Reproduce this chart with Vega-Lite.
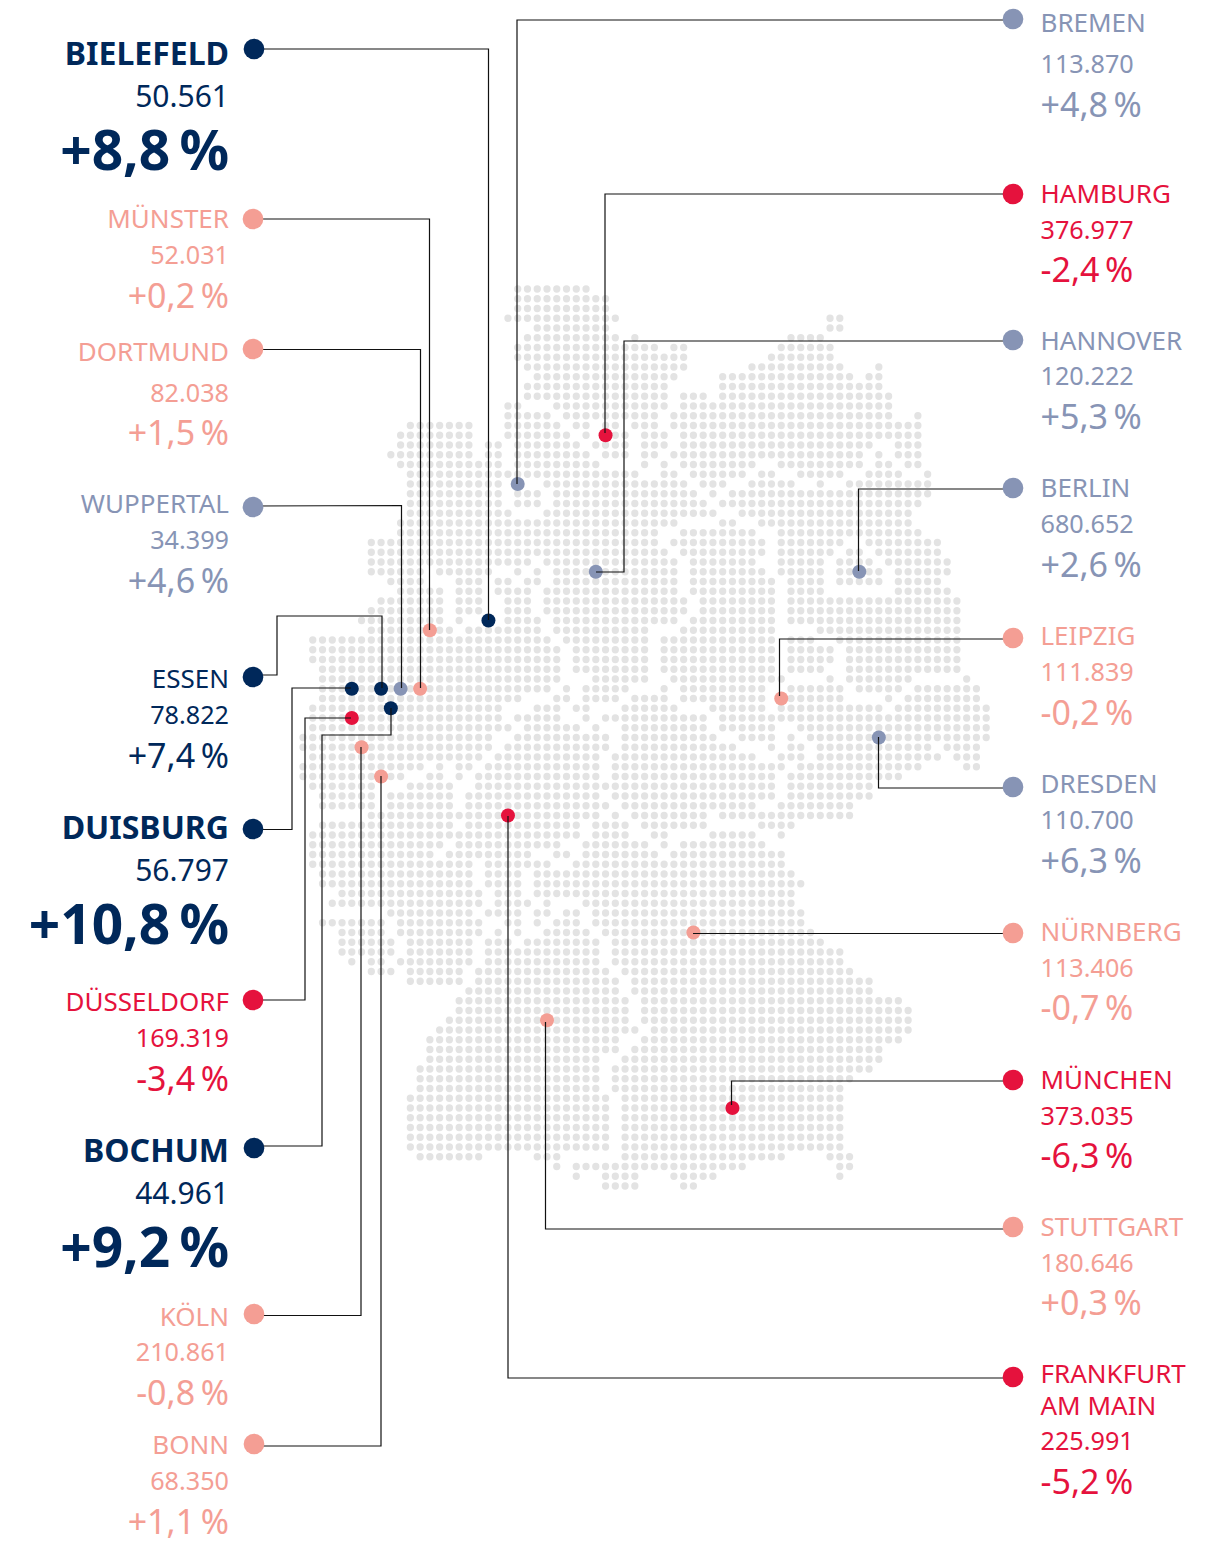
{
"$schema":"https://vega.github.io/schema/vega-lite/v6.json",
"autosize":{"type":"fit","contains":"padding"},"padding":0,"width":1224,"height":1541,
"background":"white","view":{"stroke":null},
"config":{"text":{"font":"Noto Sans"}},
"datasets":{
"dots":[
{"r":0,"c":[22,23,24,25,26,27,28,29]},
{"r":1,"c":[22,23,24,25,26,27,28,29,30,31]},
{"r":2,"c":[22,23,24,25,26,27,28,29,30,31]},
{"r":3,"c":[21,22,23,24,25,26,27,28,29,30,31,32,54,55]},
{"r":4,"c":[24,25,26,27,28,29,30,31,54,55]},
{"r":5,"c":[23,24,25,26,27,28,29,30,31,32,34,50,51,52,53]},
{"r":6,"c":[22,23,24,25,26,27,28,29,30,31,32,33,34,35,36,38,39,49,50,51,52,53,54]},
{"r":7,"c":[22,23,24,25,26,27,28,29,30,31,32,33,34,35,36,37,38,39,48,49,50,51,52,53,54]},
{"r":8,"c":[23,24,25,26,27,28,29,30,31,32,33,34,35,36,37,38,39,46,47,48,49,50,51,52,53,54,55,59]},
{"r":9,"c":[24,25,26,27,28,29,30,31,32,33,34,35,36,37,38,43,44,45,46,47,48,49,50,51,52,53,54,55,56,58,59]},
{"r":10,"c":[23,24,25,26,27,28,29,30,31,32,33,34,35,36,37,43,44,45,46,47,48,49,50,51,52,53,54,55,56,57,58,59]},
{"r":11,"c":[23,24,25,26,27,28,29,30,31,32,33,34,35,36,37,39,40,41,43,44,45,46,47,48,49,50,51,52,53,54,55,56,57,58,59,60]},
{"r":12,"c":[21,22,26,27,28,29,30,31,32,33,34,35,36,37,39,40,41,42,43,44,45,46,47,48,49,50,51,52,53,54,55,56,57,58,59,60]},
{"r":13,"c":[21,22,23,24,25,27,28,29,30,31,32,33,34,35,36,38,39,40,41,42,43,44,45,46,47,48,49,50,51,52,53,54,55,56,57,58,59,60,63]},
{"r":14,"c":[11,12,13,14,15,16,17,21,22,23,24,25,26,28,29,31,32,34,35,36,38,39,40,41,42,43,44,45,46,47,48,49,50,51,52,53,54,55,56,57,58,59,60,61,62,63]},
{"r":15,"c":[10,11,12,13,14,15,16,17,21,22,23,24,25,26,27,29,31,32,33,35,36,37,39,40,41,42,43,44,45,46,47,48,49,50,51,52,53,54,55,56,57,58,59,60,61,62,63]},
{"r":16,"c":[10,11,12,13,14,15,16,17,19,20,22,23,24,25,26,27,28,30,31,32,33,35,36,37,39,40,41,42,43,44,45,46,47,48,49,50,51,52,53,54,55,56,57,58,61,62,63]},
{"r":17,"c":[9,10,11,12,13,14,15,16,17,19,20,22,23,24,25,26,27,28,29,31,32,33,35,36,38,39,40,41,42,43,44,45,46,47,48,49,50,51,52,53,54,55,56,57,59,61,62,63]},
{"r":18,"c":[10,11,12,13,14,15,16,17,18,19,20,22,23,24,25,26,27,28,29,30,35,37,39,40,41,42,43,44,45,46,49,50,51,52,53,54,55,56,57,59,60,62,63]},
{"r":19,"c":[11,12,13,14,15,16,17,18,19,20,21,22,23,24,25,26,27,28,29,30,31,32,33,34,37,38,40,41,42,43,44,45,47,48,51,52,53,54,55,58,59,60,61,64]},
{"r":20,"c":[11,12,13,14,15,16,17,18,19,20,22,25,26,27,28,29,30,31,32,33,34,35,36,37,38,39,41,42,43,46,47,48,49,50,53,56,57,58,59,60,61,62,63,64]},
{"r":21,"c":[11,12,13,14,15,16,17,18,19,20,22,23,24,26,27,28,29,30,31,32,33,34,35,36,37,38,39,40,42,44,45,46,47,48,49,50,51,52,53,54,55,56,57,58,59,60,61,62,63,64]},
{"r":22,"c":[11,12,13,14,15,16,17,18,19,20,22,23,24,26,27,28,29,30,31,32,33,34,35,36,37,38,39,40,41,43,44,45,46,47,48,49,50,51,52,53,54,55,56,57,58,59,60,61,62,63]},
{"r":23,"c":[11,12,13,14,15,16,17,18,19,20,21,25,26,27,28,29,30,31,32,33,34,35,36,37,38,39,40,41,42,45,46,47,48,49,50,51,52,53,54,55,56,57,58,59,60,61,62]},
{"r":24,"c":[10,11,12,13,14,15,16,17,18,19,20,21,22,23,24,25,26,27,28,29,30,31,32,33,34,35,36,37,38,43,44,47,48,49,50,51,52,53,54,55,56,57,58,59,60,61,62]},
{"r":25,"c":[10,11,12,13,14,15,16,17,18,19,20,21,22,23,24,25,26,27,28,29,30,31,32,33,34,35,36,39,40,41,42,43,44,45,46,49,50,51,52,53,54,55,56,57,58,59,60,61,62,63]},
{"r":26,"c":[7,8,9,10,11,12,13,14,15,16,17,18,19,20,21,22,23,24,25,26,27,28,29,30,31,32,33,34,35,36,38,39,40,41,42,43,44,45,46,47,49,50,51,52,53,54,55,58,59,60,61,62,63,64,65]},
{"r":27,"c":[7,8,9,10,11,12,13,14,15,16,17,18,19,20,21,22,23,24,25,26,27,28,29,30,31,32,33,34,35,36,37,39,40,41,42,43,44,45,46,47,49,50,51,52,53,54,56,57,59,60,61,62,63,64,65]},
{"r":28,"c":[7,8,9,10,11,12,13,14,15,16,17,18,19,20,21,22,23,25,26,27,28,29,30,31,32,33,34,35,36,37,38,40,41,42,43,44,45,46,49,50,51,52,53,55,56,57,58,60,61,62,63,64,65,66]},
{"r":29,"c":[7,8,9,10,11,12,14,15,16,17,18,19,22,24,26,27,28,29,30,31,32,33,34,35,36,37,38,40,41,42,43,44,45,46,47,49,50,51,52,53,55,56,57,58,59,61,62,63,64,65,66]},
{"r":30,"c":[9,10,11,12,16,17,18,20,21,23,24,26,27,28,29,30,31,32,33,34,35,36,37,38,40,41,42,43,44,45,46,47,48,50,51,52,53,55,56,57,58,59,61,62,63,64,65]},
{"r":31,"c":[10,11,12,13,14,16,17,18,20,21,22,23,25,26,27,28,29,30,31,32,33,34,35,36,37,38,40,41,42,43,44,45,46,47,48,50,51,52,53,61,62,63,64,65,66]},
{"r":32,"c":[8,9,10,11,12,13,14,16,17,18,21,22,23,25,26,27,28,29,30,31,32,33,34,35,36,37,38,39,41,42,43,44,45,46,47,48,50,51,52,53,54,55,56,57,58,59,60,61,62,63,64,65,66,67]},
{"r":33,"c":[7,8,9,10,11,12,13,14,16,17,18,21,22,23,25,26,27,28,29,30,31,32,33,34,35,36,37,38,39,41,42,43,44,45,46,47,48,50,51,52,53,54,55,56,57,58,59,60,61,62,63,64,65,66,67]},
{"r":34,"c":[6,7,8,9,10,11,12,13,14,16,19,21,22,23,24,26,27,28,29,30,31,32,33,34,35,36,37,38,40,41,42,43,44,45,46,47,48,50,51,52,53,54,55,56,57,58,59,60,61,62,63,64,65,66,67]},
{"r":35,"c":[7,8,9,10,11,12,13,14,15,17,18,19,20,21,22,23,24,26,27,28,29,30,31,32,33,34,35,39,40,41,42,43,44,45,46,47,48,53,54,55,56,57,58,59,60,61,62,63,64,65,66,67]},
{"r":36,"c":[1,2,3,4,5,6,7,8,9,10,11,12,13,14,15,16,17,18,19,20,21,22,23,24,25,27,28,29,30,31,32,33,34,35,37,38,39,40,41,42,43,44,45,46,47,48,50,51,52,55,56,57,58,59,60,61,62,63,64,65,66,67]},
{"r":37,"c":[1,2,3,4,5,6,7,8,9,10,11,12,13,14,15,16,17,18,19,20,21,22,23,24,25,26,28,29,30,31,32,33,34,35,37,38,39,40,41,42,43,44,45,46,47,48,50,51,52,53,54,56,57,58,59,60,61,62,63,64,65,66,67]},
{"r":38,"c":[1,2,3,4,5,6,7,8,9,10,11,12,13,14,15,16,17,18,19,20,21,22,23,24,25,26,28,29,30,31,32,33,34,35,37,38,39,40,41,42,43,44,45,46,47,48,50,51,52,53,54,56,57,58,59,60,61,62,63,64,65,66,67]},
{"r":39,"c":[2,3,4,5,6,7,8,9,10,11,12,13,14,15,16,17,18,19,20,21,22,23,24,25,26,28,29,30,31,32,33,34,35,37,38,39,40,41,42,43,44,45,46,47,48,50,51,52,53,56,57,58,59,60,61,62,63,64,65,66,67]},
{"r":40,"c":[2,3,4,5,6,7,8,9,10,11,12,13,14,15,16,17,18,19,20,21,22,23,24,25,26,30,31,32,33,34,35,38,39,40,41,42,43,44,45,46,47,48,49,54,56,57,58,59,60,61,62,68]},
{"r":41,"c":[2,3,4,5,6,7,8,9,10,11,12,13,14,15,16,17,18,19,20,21,22,23,24,25,27,29,30,31,32,33,37,39,40,41,42,43,44,45,46,47,50,51,52,53,54,55,57,58,59,60,61,63,64,65,66,67,68,69]},
{"r":42,"c":[2,3,4,5,6,7,8,9,10,11,12,13,14,15,16,17,18,19,20,21,22,26,27,29,30,31,32,34,35,36,37,39,40,41,42,43,44,45,46,47,49,50,51,52,53,54,55,60,62,63,64,65,66,67,68,69]},
{"r":43,"c":[1,2,3,4,5,6,7,8,9,10,11,12,13,14,15,16,17,18,19,20,24,25,26,28,29,33,34,35,36,37,38,42,43,44,45,46,47,49,50,51,52,53,54,55,56,57,58,59,61,62,63,64,65,66,67,68,69,70]},
{"r":44,"c":[1,2,3,4,5,6,7,8,9,10,11,12,13,14,15,16,17,18,19,20,22,23,24,25,26,29,31,32,33,34,35,36,37,38,39,40,41,43,44,45,46,47,48,49,50,51,52,53,54,55,56,57,58,59,60,61,62,63,64,65,66,67,68,69,70]},
{"r":45,"c":[1,2,3,4,5,6,7,8,9,10,11,12,13,14,15,16,17,18,19,20,21,23,24,25,26,27,28,30,33,34,35,36,37,38,39,40,41,43,44,45,46,47,48,51,52,53,54,55,56,57,58,59,60,61,62,63,64,65,66,67,68,69,70]},
{"r":46,"c":[0,1,2,3,4,5,6,7,8,9,10,11,12,13,14,15,16,17,18,19,22,23,24,25,26,27,28,29,30,31,33,34,35,36,37,38,39,40,41,42,45,46,47,48,50,52,53,54,55,56,57,58,59,60,61,62,63,64,65,66,67,68,69,70]},
{"r":47,"c":[0,1,2,3,4,5,6,7,8,9,10,11,12,13,14,15,16,17,18,19,21,22,23,24,25,26,27,28,29,30,31,33,34,35,36,37,38,39,40,41,42,43,44,48,50,51,53,54,55,56,57,58,59,60,61,62,63,64,66,67,68,69]},
{"r":48,"c":[1,2,3,4,5,6,7,8,9,10,11,12,13,14,15,16,17,18,20,21,22,23,24,25,26,27,28,29,30,32,33,34,35,36,37,38,39,40,41,42,43,44,45,46,49,50,51,53,54,55,56,57,58,59,60,61,62,63,64,65,67,68,69]},
{"r":49,"c":[0,1,2,3,4,5,6,7,8,9,10,11,12,14,16,17,19,20,21,22,23,24,25,26,27,28,29,30,32,33,34,35,36,37,38,39,40,41,42,43,44,45,46,47,48,49,51,52,53,54,55,56,57,58,59,60,61,62,63,68,69]},
{"r":50,"c":[0,1,2,3,4,5,6,7,8,9,10,13,14,16,18,19,20,21,22,23,24,25,26,27,28,29,30,32,33,34,35,36,37,38,39,40,41,42,43,44,45,46,47,48,50,51,52,53,54,55,56,57,58,59,60,61]},
{"r":51,"c":[1,2,3,4,5,6,7,11,12,13,14,15,18,19,20,21,22,23,24,25,26,27,28,29,30,31,32,33,34,35,36,37,38,39,40,41,42,43,44,45,46,47,48,50,51,52,53,54,55,56,57,58]},
{"r":52,"c":[2,3,4,5,6,7,9,10,11,12,13,14,15,17,18,19,20,21,22,23,24,25,26,27,28,29,30,32,33,34,35,36,37,38,39,40,41,42,43,44,45,46,47,48,50,51,52,53,54,55,56,57,58]},
{"r":53,"c":[2,3,4,5,6,7,9,10,11,12,13,14,15,17,18,19,20,21,22,23,24,25,26,27,28,29,30,31,33,34,35,36,37,38,39,40,41,42,43,44,45,46,49,50,51,52,53,54,55,56]},
{"r":54,"c":[7,8,9,10,11,12,13,14,15,16,17,18,19,20,21,22,23,24,25,26,27,28,29,30,32,34,35,36,37,38,39,40,41,43,44,45,46,47,48,49,50,51,52,53,54,55,56]},
{"r":55,"c":[2,3,4,5,6,7,8,9,10,11,12,13,14,15,17,18,19,20,21,22,23,24,25,26,27,28,30,31,32,33,35,36,37,38,39,40,41,47,48,49,50]},
{"r":56,"c":[1,2,3,4,5,6,7,8,9,10,11,12,13,14,15,16,17,18,19,20,21,22,23,24,25,26,27,28,30,31,32,33,36,37,42,43,44,45,46,49]},
{"r":57,"c":[1,2,3,4,5,6,7,8,9,10,11,12,13,14,16,17,18,19,20,21,22,23,24,25,26,29,30,31,32,33,34,35,37,39,40,41,42,43,44,45,46,47]},
{"r":58,"c":[1,2,3,4,5,6,7,8,9,10,11,12,13,15,16,17,18,19,20,21,22,23,26,27,29,30,31,32,33,34,35,36,38,39,40,41,42,43,44,45,46,47,48,49]},
{"r":59,"c":[1,2,3,4,5,6,7,8,9,10,11,12,13,14,15,16,17,19,20,21,22,23,24,25,28,29,30,31,32,33,34,35,36,37,38,39,40,41,42,43,44,45,46,47,48,49]},
{"r":60,"c":[2,3,4,5,6,7,8,9,10,11,12,13,14,15,16,17,19,20,21,22,24,25,26,27,28,29,30,31,32,33,34,35,36,37,38,39,40,41,42,43,44,45,46,47,48,49,50]},
{"r":61,"c":[2,3,4,5,6,7,8,9,10,11,12,13,14,15,16,17,19,20,21,22,24,25,26,27,28,29,30,31,32,33,34,35,36,37,38,39,40,41,42,43,44,45,46,47,48,49,50,51]},
{"r":62,"c":[4,5,6,7,8,9,10,11,12,13,14,15,16,17,18,20,21,22,24,25,26,27,28,29,30,31,32,33,34,35,36,37,38,39,40,41,42,43,44,45,46,47,48,49,50]},
{"r":63,"c":[3,4,5,6,7,8,9,10,11,12,13,14,15,16,17,18,20,21,22,23,25,29,30,31,32,33,34,35,36,37,38,39,40,41,42,43,44,45,46,47,48,49,50]},
{"r":64,"c":[9,10,11,12,13,14,15,16,17,19,20,21,22,24,25,27,28,30,31,32,33,34,35,36,37,38,39,40,41,42,43,44,45,46,47,48,49,50,51]},
{"r":65,"c":[2,3,4,5,6,7,8,10,11,12,13,14,15,16,17,18,21,22,24,26,27,28,30,31,32,33,34,35,36,37,38,39,40,41,42,43,44,45,46,47,48,49,50,51]},
{"r":66,"c":[4,5,6,7,8,10,11,12,13,14,15,16,17,18,20,22,25,26,27,28,29,31,32,33,34,35,36,37,38,39,40,41,42,43,44,45,46,47,48,49,50,51,52]},
{"r":67,"c":[4,5,6,7,8,9,11,12,13,14,15,16,17,19,20,21,23,24,25,26,27,28,29,30,32,33,34,35,36,37,38,39,40,41,42,43,44,45,46,47,48,49,50,51,52,53]},
{"r":68,"c":[4,5,6,7,8,9,11,12,13,14,15,16,17,19,20,21,22,23,24,25,26,27,28,29,30,32,33,34,35,36,37,38,39,40,41,42,43,44,45,46,47,48,49,50,51,52,53,54,55]},
{"r":69,"c":[5,7,8,10,11,12,13,14,15,16,17,19,20,21,22,23,24,25,26,27,28,29,30,32,33,34,35,36,37,38,39,40,41,42,43,44,45,46,47,48,49,50,51,52,53,54,55]},
{"r":70,"c":[7,8,9,11,12,13,14,15,16,18,19,20,21,22,23,24,25,26,27,28,29,30,31,33,34,35,36,37,38,39,40,41,42,43,44,45,46,47,48,49,50,51,52,53,54,55,56]},
{"r":71,"c":[11,12,13,14,15,16,18,19,20,21,22,23,24,25,26,27,28,29,30,31,32,34,35,36,37,38,39,40,41,42,43,44,45,46,47,48,49,50,51,52,53,54,55,56,57,58]},
{"r":72,"c":[17,18,19,20,21,22,23,24,25,26,27,28,29,30,31,32,34,35,36,37,38,39,40,41,42,43,44,45,46,47,48,49,50,51,52,53,54,55,56,57,58]},
{"r":73,"c":[16,17,18,19,20,21,22,23,24,25,26,27,28,29,30,31,32,33,35,36,37,38,39,40,41,42,43,44,45,46,47,48,49,50,51,52,53,54,55,56,57,58,59,60,61]},
{"r":74,"c":[16,17,18,19,20,21,22,23,24,25,26,27,28,29,30,31,32,33,35,36,37,38,39,40,41,42,43,44,45,46,47,48,49,50,51,52,53,54,55,56,57,58,59,60,61,62]},
{"r":75,"c":[15,16,17,18,19,20,21,22,23,24,25,26,27,28,29,30,31,32,33,35,36,37,38,39,40,41,42,43,44,45,46,47,48,49,50,51,52,53,54,55,56,57,58,59,60,61,62]},
{"r":76,"c":[14,15,16,17,18,19,20,21,22,23,24,25,26,27,28,29,30,31,32,33,34,36,37,38,39,40,41,42,43,44,45,46,47,48,49,50,51,52,53,54,55,56,57,58,59,60,61,62]},
{"r":77,"c":[13,14,15,16,17,18,19,20,21,22,23,24,25,26,27,28,29,30,31,32,35,36,37,38,39,40,41,42,43,44,45,46,47,48,49,50,51,52,53,54,55,56,57,58,59,60,61]},
{"r":78,"c":[13,14,15,16,17,18,19,20,21,22,23,24,25,26,27,28,29,30,31,32,34,35,36,37,38,39,40,41,42,43,44,45,46,47,48,49,50,51,52,53,54,55,56,57,58,59]},
{"r":79,"c":[13,14,15,16,17,18,19,20,21,22,23,24,25,26,27,28,29,30,33,34,35,36,37,38,39,40,41,42,43,44,45,46,47,48,49,50,51,52,53,54,55,56,57,58,59]},
{"r":80,"c":[12,13,14,15,16,17,18,19,20,21,22,23,24,25,26,27,28,29,30,32,33,34,35,36,37,38,39,40,41,42,43,44,45,46,47,48,49,50,51,52,53,54,55,56,57,58]},
{"r":81,"c":[12,13,14,15,16,17,18,19,20,21,22,23,24,25,26,27,28,29,30,32,33,34,35,36,37,38,39,40,41,42,43,44,45,46,47,48,49,50,51,52,53,54,55,56]},
{"r":82,"c":[12,13,14,15,16,17,18,19,20,21,22,23,24,25,26,27,28,29,30,32,33,34,35,36,37,38,39,40,41,42,43,44,45,46,47,48,49,50,51,52,53,54,55]},
{"r":83,"c":[11,12,13,14,15,16,17,18,19,20,21,22,23,24,25,26,27,28,29,30,31,33,34,35,36,37,38,39,40,41,42,43,44,45,46,47,48,49,50,51,52,53,54,55]},
{"r":84,"c":[11,12,13,14,15,16,17,18,19,20,21,22,23,24,25,26,27,28,29,30,31,33,34,35,36,37,38,39,40,41,42,43,44,45,46,47,48,49,50,51,52,53,54,55]},
{"r":85,"c":[11,12,13,14,15,16,17,18,19,20,21,22,23,24,25,26,27,28,29,30,31,33,34,35,36,37,38,39,40,41,42,43,44,45,46,47,48,49,50,51,52,53,54,55]},
{"r":86,"c":[11,12,13,14,15,16,17,18,19,20,21,22,23,24,25,26,27,28,29,30,31,33,34,35,36,37,38,39,40,41,42,43,44,45,46,47,48,49,50,51,52,53,54,55]},
{"r":87,"c":[11,12,13,14,15,16,17,18,19,20,21,22,23,24,25,26,27,28,29,30,31,33,34,35,36,37,38,39,40,41,42,43,44,45,46,47,48,49,50,51,52,53,54,55]},
{"r":88,"c":[11,12,13,14,15,16,17,18,19,20,21,22,23,24,25,26,27,28,29,30,31,33,34,35,36,37,38,39,40,41,42,43,44,45,46,47,48,49,50,51,52,53,54,55]},
{"r":89,"c":[12,13,14,15,16,17,18,24,25,26,33,34,35,36,37,38,39,40,41,42,43,44,45,46,47,48,49,54,55,56]},
{"r":90,"c":[26,28,29,30,31,32,33,34,35,36,37,38,39,40,41,42,43,44,45,55,56]},
{"r":91,"c":[28,31,32,33,34,38,39,40,41,42,55]},
{"r":92,"c":[31,32,33,34,39,40]}
],
"pins":[
{"city":"Bielefeld","g":"stark","c":19,"r":34},{"city":"Münster","g":"stabil","c":13,"r":35},{"city":"Dortmund","g":"stabil","c":12,"r":41},{"city":"Wuppertal","g":"plus","c":10,"r":41},{"city":"Essen","g":"stark","c":8,"r":41},{"city":"Duisburg","g":"stark","c":5,"r":41},{"city":"Düsseldorf","g":"minus","c":5,"r":44},{"city":"Bochum","g":"stark","c":9,"r":43},{"city":"Köln","g":"stabil","c":6,"r":47},{"city":"Bonn","g":"stabil","c":8,"r":50},
{"city":"Bremen","g":"plus","c":22,"r":20},{"city":"Hamburg","g":"minus","c":31,"r":15},{"city":"Hannover","g":"plus","c":30,"r":29},{"city":"Berlin","g":"plus","c":57,"r":29},{"city":"Leipzig","g":"stabil","c":49,"r":42},{"city":"Dresden","g":"plus","c":59,"r":46},{"city":"Nürnberg","g":"stabil","c":40,"r":66},{"city":"München","g":"minus","c":44,"r":84},{"city":"Stuttgart","g":"stabil","c":25,"r":75},{"city":"Frankfurt","g":"minus","c":21,"r":54}
],
"ends":[
{"city":"Bielefeld","g":"stark","x":254,"y":49},{"city":"Münster","g":"stabil","x":253,"y":219},{"city":"Dortmund","g":"stabil","x":253,"y":349},{"city":"Wuppertal","g":"plus","x":253,"y":507},{"city":"Essen","g":"stark","x":253,"y":677},{"city":"Duisburg","g":"stark","x":253,"y":829},{"city":"Düsseldorf","g":"minus","x":253,"y":1000},{"city":"Bochum","g":"stark","x":254,"y":1148},{"city":"Köln","g":"stabil","x":254,"y":1314},{"city":"Bonn","g":"stabil","x":254,"y":1444},
{"city":"Bremen","g":"plus","x":1013,"y":19},{"city":"Hamburg","g":"minus","x":1013,"y":194},{"city":"Hannover","g":"plus","x":1013,"y":340},{"city":"Berlin","g":"plus","x":1013,"y":488},{"city":"Leipzig","g":"stabil","x":1013,"y":638},{"city":"Dresden","g":"plus","x":1013,"y":787},{"city":"Nürnberg","g":"stabil","x":1013,"y":933},{"city":"München","g":"minus","x":1013,"y":1080},{"city":"Stuttgart","g":"stabil","x":1013,"y":1227},{"city":"Frankfurt","g":"minus","x":1013,"y":1377}
],
"routes":[
{"city":"Bielefeld","n":1,"x":254,"y":49},{"city":"Bielefeld","n":2,"x":488.5,"y":49},{"city":"Bielefeld","n":3,"x":488.5,"y":620},
{"city":"Münster","n":1,"x":253,"y":219},{"city":"Münster","n":2,"x":429.5,"y":219},{"city":"Münster","n":3,"x":429.5,"y":630},
{"city":"Dortmund","n":1,"x":253,"y":349.5},{"city":"Dortmund","n":2,"x":420.5,"y":349.5},{"city":"Dortmund","n":3,"x":420.5,"y":688},
{"city":"Wuppertal","n":1,"x":253,"y":506},{"city":"Wuppertal","n":2,"x":401.5,"y":505.5},{"city":"Wuppertal","n":3,"x":401.5,"y":688},
{"city":"Essen","n":1,"x":253,"y":675},{"city":"Essen","n":2,"x":277,"y":675},{"city":"Essen","n":3,"x":277,"y":616},{"city":"Essen","n":4,"x":382,"y":616},{"city":"Essen","n":5,"x":382,"y":688},
{"city":"Duisburg","n":1,"x":253,"y":829.5},{"city":"Duisburg","n":2,"x":292,"y":829.5},{"city":"Duisburg","n":3,"x":292,"y":688},{"city":"Duisburg","n":4,"x":351,"y":688},
{"city":"Düsseldorf","n":1,"x":253,"y":1000},{"city":"Düsseldorf","n":2,"x":305,"y":1000},{"city":"Düsseldorf","n":3,"x":305,"y":718},{"city":"Düsseldorf","n":4,"x":351,"y":718},
{"city":"Bochum","n":1,"x":254,"y":1146},{"city":"Bochum","n":2,"x":322,"y":1146},{"city":"Bochum","n":3,"x":322,"y":735},{"city":"Bochum","n":4,"x":391,"y":735},{"city":"Bochum","n":5,"x":391,"y":708},
{"city":"Köln","n":1,"x":254,"y":1315.5},{"city":"Köln","n":2,"x":361,"y":1315.5},{"city":"Köln","n":3,"x":361,"y":747},
{"city":"Bonn","n":1,"x":254,"y":1446},{"city":"Bonn","n":2,"x":381,"y":1446},{"city":"Bonn","n":3,"x":381,"y":776},
{"city":"Bremen","n":1,"x":1013,"y":20},{"city":"Bremen","n":2,"x":517,"y":20},{"city":"Bremen","n":3,"x":517,"y":484},
{"city":"Hamburg","n":1,"x":1013,"y":194},{"city":"Hamburg","n":2,"x":605,"y":194},{"city":"Hamburg","n":3,"x":605,"y":433},
{"city":"Hannover","n":1,"x":1013,"y":341},{"city":"Hannover","n":2,"x":624,"y":341},{"city":"Hannover","n":3,"x":624,"y":572},{"city":"Hannover","n":4,"x":596,"y":572},
{"city":"Berlin","n":1,"x":1013,"y":489},{"city":"Berlin","n":2,"x":858.5,"y":489},{"city":"Berlin","n":3,"x":858.5,"y":571},
{"city":"Leipzig","n":1,"x":1013,"y":639},{"city":"Leipzig","n":2,"x":779.5,"y":639},{"city":"Leipzig","n":3,"x":779.5,"y":696},
{"city":"Dresden","n":1,"x":1013,"y":788},{"city":"Dresden","n":2,"x":878.5,"y":788},{"city":"Dresden","n":3,"x":878.5,"y":737},
{"city":"Nürnberg","n":1,"x":1013,"y":933.5},{"city":"Nürnberg","n":2,"x":693,"y":933.5},
{"city":"München","n":1,"x":1013,"y":1081},{"city":"München","n":2,"x":731.5,"y":1081},{"city":"München","n":3,"x":731.5,"y":1105},
{"city":"Stuttgart","n":1,"x":1013,"y":1229},{"city":"Stuttgart","n":2,"x":545.5,"y":1229},{"city":"Stuttgart","n":3,"x":545.5,"y":1022},
{"city":"Frankfurt","n":1,"x":1013,"y":1378},{"city":"Frankfurt","n":2,"x":508,"y":1378},{"city":"Frankfurt","n":3,"x":508,"y":816}
],
"labels":[
{"t":"BIELEFELD","k":"nameB","g":"stark","s":"l","y":65},{"t":"50.561","k":"popB","g":"stark","s":"l","y":107},{"t":"+8,8\u2009%","k":"chgB","g":"stark","s":"l","y":170},
{"t":"MÜNSTER","k":"name","g":"stabil","s":"l","y":228},{"t":"52.031","k":"pop","g":"stabil","s":"l","y":264},{"t":"+0,2\u2009%","k":"chg","g":"stabil","s":"l","y":308},
{"t":"DORTMUND","k":"name","g":"stabil","s":"l","y":361},{"t":"82.038","k":"pop","g":"stabil","s":"l","y":402},{"t":"+1,5\u2009%","k":"chg","g":"stabil","s":"l","y":445},
{"t":"WUPPERTAL","k":"name","g":"plus","s":"l","y":513},{"t":"34.399","k":"pop","g":"plus","s":"l","y":549},{"t":"+4,6\u2009%","k":"chg","g":"plus","s":"l","y":593},
{"t":"ESSEN","k":"name","g":"stark","s":"l","y":688},{"t":"78.822","k":"pop","g":"stark","s":"l","y":724},{"t":"+7,4\u2009%","k":"chg","g":"stark","s":"l","y":768},
{"t":"DUISBURG","k":"nameB","g":"stark","s":"l","y":839},{"t":"56.797","k":"popB","g":"stark","s":"l","y":881},{"t":"+10,8\u2009%","k":"chgB","g":"stark","s":"l","y":944},
{"t":"DÜSSELDORF","k":"name","g":"minus","s":"l","y":1011},{"t":"169.319","k":"pop","g":"minus","s":"l","y":1047},{"t":"-3,4\u2009%","k":"chg","g":"minus","s":"l","y":1091},
{"t":"BOCHUM","k":"nameB","g":"stark","s":"l","y":1162},{"t":"44.961","k":"popB","g":"stark","s":"l","y":1204},{"t":"+9,2\u2009%","k":"chgB","g":"stark","s":"l","y":1267},
{"t":"KÖLN","k":"name","g":"stabil","s":"l","y":1326},{"t":"210.861","k":"pop","g":"stabil","s":"l","y":1361},{"t":"-0,8\u2009%","k":"chg","g":"stabil","s":"l","y":1405},
{"t":"BONN","k":"name","g":"stabil","s":"l","y":1454},{"t":"68.350","k":"pop","g":"stabil","s":"l","y":1490},{"t":"+1,1\u2009%","k":"chg","g":"stabil","s":"l","y":1534},
{"t":"BREMEN","k":"name","g":"plus","s":"r","y":32},{"t":"113.870","k":"pop","g":"plus","s":"r","y":73},{"t":"+4,8\u2009%","k":"chg","g":"plus","s":"r","y":117},
{"t":"HAMBURG","k":"name","g":"minus","s":"r","y":203},{"t":"376.977","k":"pop","g":"minus","s":"r","y":239},{"t":"-2,4\u2009%","k":"chg","g":"minus","s":"r","y":282},
{"t":"HANNOVER","k":"name","g":"plus","s":"r","y":350},{"t":"120.222","k":"pop","g":"plus","s":"r","y":385},{"t":"+5,3\u2009%","k":"chg","g":"plus","s":"r","y":429},
{"t":"BERLIN","k":"name","g":"plus","s":"r","y":497},{"t":"680.652","k":"pop","g":"plus","s":"r","y":533},{"t":"+2,6\u2009%","k":"chg","g":"plus","s":"r","y":577},
{"t":"LEIPZIG","k":"name","g":"stabil","s":"r","y":645},{"t":"111.839","k":"pop","g":"stabil","s":"r","y":681},{"t":"-0,2\u2009%","k":"chg","g":"stabil","s":"r","y":725},
{"t":"DRESDEN","k":"name","g":"plus","s":"r","y":793},{"t":"110.700","k":"pop","g":"plus","s":"r","y":829},{"t":"+6,3\u2009%","k":"chg","g":"plus","s":"r","y":873},
{"t":"NÜRNBERG","k":"name","g":"stabil","s":"r","y":941},{"t":"113.406","k":"pop","g":"stabil","s":"r","y":977},{"t":"-0,7\u2009%","k":"chg","g":"stabil","s":"r","y":1020},
{"t":"MÜNCHEN","k":"name","g":"minus","s":"r","y":1089},{"t":"373.035","k":"pop","g":"minus","s":"r","y":1125},{"t":"-6,3\u2009%","k":"chg","g":"minus","s":"r","y":1168},
{"t":"STUTTGART","k":"name","g":"stabil","s":"r","y":1236},{"t":"180.646","k":"pop","g":"stabil","s":"r","y":1272},{"t":"+0,3\u2009%","k":"chg","g":"stabil","s":"r","y":1315},
{"t":"FRANKFURT","k":"name","g":"minus","s":"r","y":1383},{"t":"AM MAIN","k":"name","g":"minus","s":"r","y":1415},{"t":"225.991","k":"pop","g":"minus","s":"r","y":1450},{"t":"-5,2\u2009%","k":"chg","g":"minus","s":"r","y":1494}
]
},
"resolve":{"scale":{"x":"independent","y":"independent"}},
"layer":[
{"data":{"name":"dots"},"transform":[{"flatten":["c"]}],
 "mark":{"type":"circle","size":53,"opacity":1,"color":"#E3E3E3"},
 "encoding":{"x":{"field":"c","type":"quantitative","axis":null,"scale":{"domain":[-31.045,94.365],"nice":false,"zero":false}},
 "y":{"field":"r","type":"quantitative","axis":null,"scale":{"domain":[128.41,-29.641],"nice":false,"zero":false}}}},
{"data":{"name":"pins"},
 "mark":{"type":"circle","size":196,"opacity":1},
 "encoding":{"x":{"field":"c","type":"quantitative","axis":null,"scale":{"domain":[-31.045,94.365],"nice":false,"zero":false}},
 "y":{"field":"r","type":"quantitative","axis":null,"scale":{"domain":[128.41,-29.641],"nice":false,"zero":false}},
 "color":{"field":"g","type":"nominal","legend":null,"scale":{"domain":["stark","plus","stabil","minus"],"range":["#00285A","#8794B5","#F49E94","#E5123D"]}}}},
{"data":{"name":"routes"},
 "mark":{"type":"line","color":"#111111","strokeWidth":1.2,"interpolate":"linear"},
 "encoding":{"x":{"field":"x","type":"quantitative","axis":null,"scale":{"domain":[0,1224],"nice":false,"zero":false}},
 "y":{"field":"y","type":"quantitative","axis":null,"scale":{"domain":[1541,0],"nice":false,"zero":false}},
 "detail":{"field":"city"},"order":{"field":"n","type":"quantitative"}}},
{"data":{"name":"ends"},
 "mark":{"type":"circle","size":428,"opacity":1},
 "encoding":{"x":{"field":"x","type":"quantitative","axis":null,"scale":{"domain":[0,1224],"nice":false,"zero":false}},
 "y":{"field":"y","type":"quantitative","axis":null,"scale":{"domain":[1541,0],"nice":false,"zero":false}},
 "color":{"field":"g","type":"nominal","legend":null,"scale":{"domain":["stark","plus","stabil","minus"],"range":["#00285A","#8794B5","#F49E94","#E5123D"]}}}},
{"data":{"name":"labels"},"transform":[{"filter":"datum.s=='l' && datum.k!='nameB' && datum.k!='chgB'"},{"calculate":"229","as":"xl"}],
 "mark":{"type":"text","align":"right","baseline":"alphabetic","font":"Noto Sans"},
 "encoding":{"x":{"field":"xl","type":"quantitative","axis":null,"scale":{"domain":[0,1224],"nice":false,"zero":false}},
 "y":{"field":"y","type":"quantitative","axis":null,"scale":{"domain":[1541,0],"nice":false,"zero":false}},
 "text":{"field":"t"},
 "size":{"field":"k","type":"ordinal","legend":null,"scale":{"type":"ordinal","domain":["name","pop","chg","nameB","popB","chgB"],"range":[26,25.2,34,32,30,55]}},
 "color":{"field":"g","type":"nominal","legend":null,"scale":{"domain":["stark","plus","stabil","minus"],"range":["#00285A","#8794B5","#F49E94","#E5123D"]}}}},
{"data":{"name":"labels"},"transform":[{"filter":"datum.k=='nameB' || datum.k=='chgB'"},{"calculate":"229","as":"xl"}],
 "mark":{"type":"text","align":"right","baseline":"alphabetic","font":"Noto Sans","fontWeight":"bold"},
 "encoding":{"x":{"field":"xl","type":"quantitative","axis":null,"scale":{"domain":[0,1224],"nice":false,"zero":false}},
 "y":{"field":"y","type":"quantitative","axis":null,"scale":{"domain":[1541,0],"nice":false,"zero":false}},
 "text":{"field":"t"},
 "size":{"field":"k","type":"ordinal","legend":null,"scale":{"type":"ordinal","domain":["name","pop","chg","nameB","popB","chgB"],"range":[26,25.2,34,32,30,55]}},
 "color":{"field":"g","type":"nominal","legend":null,"scale":{"domain":["stark","plus","stabil","minus"],"range":["#00285A","#8794B5","#F49E94","#E5123D"]}}}},
{"data":{"name":"labels"},"transform":[{"filter":"datum.s=='r'"},{"calculate":"1040.5","as":"xl"}],
 "mark":{"type":"text","align":"left","baseline":"alphabetic","font":"Noto Sans"},
 "encoding":{"x":{"field":"xl","type":"quantitative","axis":null,"scale":{"domain":[0,1224],"nice":false,"zero":false}},
 "y":{"field":"y","type":"quantitative","axis":null,"scale":{"domain":[1541,0],"nice":false,"zero":false}},
 "text":{"field":"t"},
 "size":{"field":"k","type":"ordinal","legend":null,"scale":{"type":"ordinal","domain":["name","pop","chg","nameB","popB","chgB"],"range":[26,25.2,34,32,30,55]}},
 "color":{"field":"g","type":"nominal","legend":null,"scale":{"domain":["stark","plus","stabil","minus"],"range":["#00285A","#8794B5","#F49E94","#E5123D"]}}}}
]
}
